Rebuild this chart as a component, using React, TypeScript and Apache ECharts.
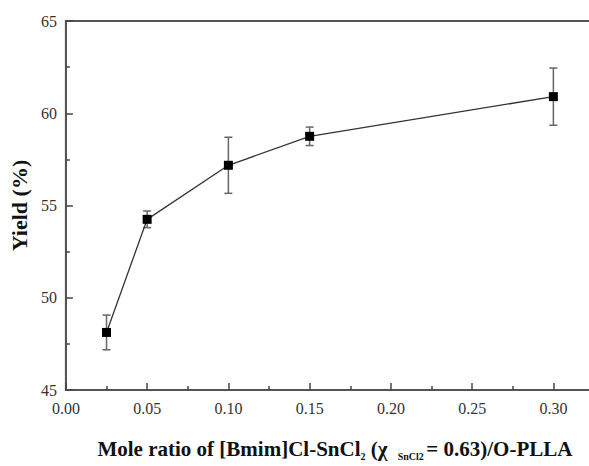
import React, { useEffect, useRef } from "react";
import * as echarts from "echarts";

const ratios = [0.025, 0.05, 0.1, 0.15, 0.3];
const yields = [48.12, 54.25, 57.18, 58.75, 60.9];
const errors = [0.94, 0.45, 1.52, 0.5, 1.55];
const xTickLabels = ["0.00", "0.05", "0.10", "0.15", "0.20", "0.25", "0.30"];
const yTickValues = [45, 50, 55, 60, 65];

export default function App() {
  const ref = useRef<HTMLDivElement>(null);
  useEffect(() => {
    if (!ref.current) return;
    const chart = echarts.init(ref.current, undefined, { renderer: "svg" });
    const serif = "'Liberation Serif', 'Times New Roman', serif";
    const points = ratios.map((x, i) => [x, yields[i]]);
    const bars = ratios.map((x, i) => [x, yields[i] - errors[i], yields[i] + errors[i]]);
    chart.setOption({
      animation: false,
      backgroundColor: "#ffffff",
      grid: {
        left: 65,
        top: 21,
        right: 26,
        bottom: 59,
        show: true,
        borderColor: "#555",
        borderWidth: 2,
        containLabel: false,
      },
      xAxis: {
        type: "value",
        min: 0,
        max: 0.325,
        interval: 0.05,
        name: "{b|Mole ratio of [Bmim]Cl-SnCl}{s|2}{b| (χ }{s|  SnCl2 }{b|= 0.63)/O-PLLA}",
        nameLocation: "middle",
        nameGap: 46,
        nameTextStyle: {
          padding: [0, 0, 0, 10],
          rich: {
            b: { fontFamily: serif, fontWeight: "bold", fontSize: 21, color: "#111", lineHeight: 25, verticalAlign: "middle" },
            s: { fontFamily: serif, fontWeight: "bold", fontSize: 10, color: "#111", lineHeight: 10, verticalAlign: "bottom" },
          },
        },
        axisLine: { show: true, onZero: false, lineStyle: { color: "#555", width: 2 } },
        axisTick: { show: true, inside: true, length: 7, lineStyle: { color: "#444", width: 1.5 } },
        minorTick: { show: true, splitNumber: 2, length: 4, lineStyle: { color: "#444", width: 1.5 } },
        splitLine: { show: false },
        axisLabel: {
          showMaxLabel: false,
          fontFamily: serif,
          fontSize: 16,
          color: "#333",
          margin: 10,
          formatter: (v: number) => {
            const idx = Math.round(v / 0.05);
            return xTickLabels[idx] ?? "";
          },
        },
      },
      yAxis: {
        type: "value",
        min: yTickValues[0],
        max: yTickValues[yTickValues.length - 1],
        interval: 5,
        name: "Yield (%)",
        nameLocation: "middle",
        nameGap: 32,
        nameTextStyle: { fontFamily: serif, fontWeight: "bold", fontSize: 22, color: "#111" },
        axisLine: { show: true, lineStyle: { color: "#555", width: 2 } },
        axisTick: { show: true, inside: true, length: 7, lineStyle: { color: "#444", width: 1.5 } },
        minorTick: { show: true, splitNumber: 2, length: 4, lineStyle: { color: "#444", width: 1.5 } },
        splitLine: { show: false },
        axisLabel: { fontFamily: serif, fontSize: 16, color: "#333", margin: 9 },
      },
      series: [
        {
          type: "custom",
          data: bars,
          z: 1,
          renderItem: (params: any, api: any) => {
            const x = api.value(0);
            const lo = api.coord([x, api.value(1)]);
            const hi = api.coord([x, api.value(2)]);
            const cap = 4;
            const style = { stroke: "#666", lineWidth: 1.5 };
            return {
              type: "group",
              children: [
                { type: "line", shape: { x1: lo[0], y1: lo[1], x2: hi[0], y2: hi[1] }, style },
                { type: "line", shape: { x1: hi[0] - cap, y1: hi[1], x2: hi[0] + cap, y2: hi[1] }, style },
                { type: "line", shape: { x1: lo[0] - cap, y1: lo[1], x2: lo[0] + cap, y2: lo[1] }, style },
              ],
            };
          },
        },
        {
          type: "line",
          data: points,
          z: 3,
          symbol: "rect",
          symbolSize: 9,
          lineStyle: { color: "#333", width: 1.3 },
          itemStyle: { color: "#000" },
        },
      ],
    });
    return () => chart.dispose();
  }, []);
  return (
    <div style={{ position: "absolute", left: 0, top: 0, width: 589, height: 466, overflow: "hidden", background: "#fff" }}>
      <div ref={ref} style={{ width: 620, height: 466 }} />
    </div>
  );
}
